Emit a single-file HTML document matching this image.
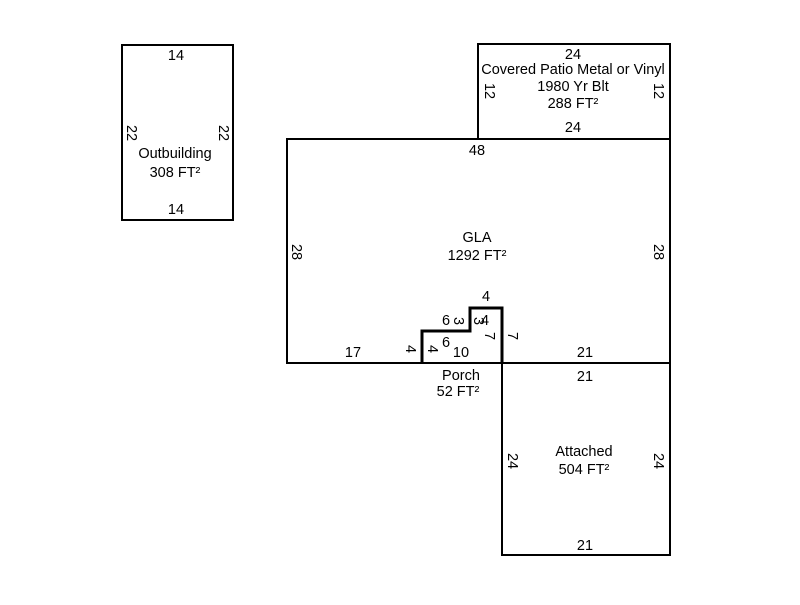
<!DOCTYPE html>
<html><head><style>html,body{margin:0;padding:0;background:#fff}</style></head><body>
<svg width="800" height="600" xmlns="http://www.w3.org/2000/svg" font-family="Liberation Sans, Arial, sans-serif" font-size="14.5" text-anchor="middle" dominant-baseline="middle" fill="#000">
<g fill="none" stroke="#000" stroke-width="2">
<rect x="122" y="45" width="111" height="175"/>
<rect x="478" y="44" width="192" height="95"/>
<rect x="287" y="139" width="383" height="224"/>
<rect x="502" y="363" width="168" height="192"/>
<polyline points="422,363 422,331 470,331 470,308 502,308 502,363" stroke-width="3"/>
</g>
<g transform="translate(0,1)">
<text x="176" y="55">14</text><text x="176" y="209">14</text>
<text transform="translate(131,132) rotate(90)">22</text>
<text transform="translate(223,132) rotate(90)">22</text>
<text x="175" y="153">Outbuilding</text><text x="175" y="172">308 FT²</text>
<text x="573" y="54">24</text>
<text x="573" y="69">Covered Patio Metal or Vinyl</text>
<text x="573" y="86">1980 Yr Blt</text>
<text x="573" y="103">288 FT²</text>
<text x="573" y="127">24</text>
<text transform="translate(489,90) rotate(90)">12</text>
<text transform="translate(658,90) rotate(90)">12</text>
<text x="477" y="150">48</text>
<text transform="translate(296,251) rotate(90)">28</text>
<text transform="translate(658,251) rotate(90)">28</text>
<text x="477" y="237">GLA</text><text x="477" y="255">1292 FT²</text>
<text x="353" y="352">17</text><text x="585" y="352">21</text>
<text transform="translate(410,348) rotate(90)">4</text>
<text transform="translate(432,348) rotate(90)">4</text>
<text x="446" y="342">6</text><text x="461" y="352">10</text>
<text x="446" y="320">6</text>
<text transform="translate(458,320) rotate(90)">3</text>
<text x="486" y="296">4</text>
<text transform="translate(478,320) rotate(90)">3</text>
<text x="485" y="320">4</text>
<text transform="translate(489,335) rotate(90)">7</text>
<text transform="translate(512,335) rotate(90)">7</text>
<text x="461" y="375">Porch</text><text x="458" y="391">52 FT²</text>
<text x="585" y="376">21</text><text x="585" y="545">21</text>
<text transform="translate(512,460) rotate(90)">24</text>
<text transform="translate(658,460) rotate(90)">24</text>
<text x="584" y="451">Attached</text><text x="584" y="469">504 FT²</text>
</g>
</svg>
</body></html>
